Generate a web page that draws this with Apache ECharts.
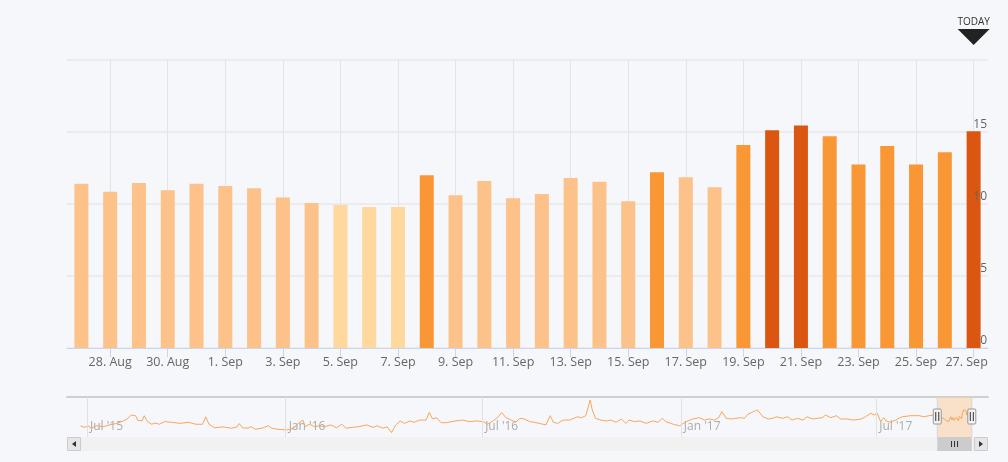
<!DOCTYPE html>
<html>
<head>
<meta charset="utf-8">
<script src="https://cdn.jsdelivr.net/npm/echarts@6/dist/echarts.min.js"></script>
<style>
html,body{margin:0;padding:0;background:#f6f7fa;}
#c{width:1008px;height:462px;}
</style>
</head>
<body>
<div id="c"></div>
<script>
// ---------- main chart data ----------
const categories = ['27. Aug','28. Aug','29. Aug','30. Aug','31. Aug','1. Sep','2. Sep','3. Sep','4. Sep','5. Sep','6. Sep','7. Sep','8. Sep','9. Sep','10. Sep','11. Sep','12. Sep','13. Sep','14. Sep','15. Sep','16. Sep','17. Sep','18. Sep','19. Sep','20. Sep','21. Sep','22. Sep','23. Sep','24. Sep','25. Sep','26. Sep','27. Sep'];
const barDates = ['2017-08-27','2017-08-28','2017-08-29','2017-08-30','2017-08-31','2017-09-01','2017-09-02','2017-09-03','2017-09-04','2017-09-05','2017-09-06','2017-09-07','2017-09-08','2017-09-09','2017-09-10','2017-09-11','2017-09-12','2017-09-13','2017-09-14','2017-09-15','2017-09-16','2017-09-17','2017-09-18','2017-09-19','2017-09-20','2017-09-21','2017-09-22','2017-09-23','2017-09-24','2017-09-25','2017-09-26','2017-09-27'];
const values = [11.4,10.85,11.45,10.95,11.4,11.25,11.1,10.45,10.07,9.93,9.8,9.8,12.0,10.6,11.6,10.4,10.7,11.8,11.55,10.19,12.2,11.85,11.16,14.1,15.12,15.46,14.7,12.75,14.03,12.75,13.59,15.05];
const yMin = 0, yMax = 20, yInterval = 5;
const todayLabel = 'TODAY';

// ---------- navigator (history) data ----------
const navDates = ['2015-06-25','2015-06-29','2015-07-02','2015-07-05','2015-07-10','2015-07-16','2015-07-22','2015-07-28','2015-08-02','2015-08-07','2015-08-11','2015-08-15','2015-08-17','2015-08-21','2015-08-23','2015-08-26','2015-08-30','2015-09-02','2015-09-06','2015-09-11','2015-09-17','2015-09-25','2015-10-03','2015-10-10','2015-10-16','2015-10-19','2015-10-22','2015-10-27','2015-11-04','2015-11-12','2015-11-17','2015-11-19','2015-11-22','2015-11-27','2015-11-30','2015-12-04','2015-12-10','2015-12-16','2015-12-19','2015-12-25','2016-01-02','2016-01-08','2016-01-12','2016-01-17','2016-01-19','2016-01-23','2016-01-28','2016-02-01','2016-02-06','2016-02-12','2016-02-17','2016-02-22','2016-02-26','2016-03-03','2016-03-09','2016-03-16','2016-03-22','2016-03-26','2016-03-31','2016-04-04','2016-04-08','2016-04-12','2016-04-16','2016-04-20','2016-04-25','2016-04-29','2016-05-04','2016-05-10','2016-05-13','2016-05-16','2016-05-20','2016-05-24','2016-05-29','2016-06-06','2016-06-13','2016-06-19','2016-06-26','2016-07-02','2016-07-06','2016-07-11','2016-07-16','2016-07-19','2016-07-23','2016-07-28','2016-08-01','2016-08-05','2016-08-09','2016-08-14','2016-08-17','2016-08-23','2016-08-29','2016-09-02','2016-09-05','2016-09-09','2016-09-14','2016-09-20','2016-09-24','2016-09-27','2016-10-01','2016-10-05','2016-10-09','2016-10-11','2016-10-14','2016-10-19','2016-10-24','2016-10-28','2016-11-02','2016-11-07','2016-11-11','2016-11-14','2016-11-19','2016-11-24','2016-11-30','2016-12-06','2016-12-11','2016-12-15','2016-12-18','2016-12-25','2016-12-31','2017-01-06','2017-01-12','2017-01-18','2017-01-23','2017-01-27','2017-02-01','2017-02-05','2017-02-08','2017-02-12','2017-02-17','2017-02-21','2017-02-26','2017-03-01','2017-03-04','2017-03-09','2017-03-13','2017-03-18','2017-03-23','2017-03-27','2017-03-31','2017-04-05','2017-04-10','2017-04-14','2017-04-19','2017-04-24','2017-04-28','2017-05-03','2017-05-08','2017-05-12','2017-05-15','2017-05-20','2017-05-25','2017-05-29','2017-06-04','2017-06-10','2017-06-17','2017-06-21','2017-06-26','2017-06-29','2017-07-02','2017-07-05','2017-07-08','2017-07-10','2017-07-14','2017-07-19','2017-07-25','2017-08-02','2017-08-10','2017-08-14','2017-08-19','2017-08-24'];
const navValues = [7.8,7.2,7.9,6.8,7.9,7.5,8.3,8.9,9.8,10.9,12.8,12.5,10.4,10.1,12.5,9.8,8.6,9.2,8.6,9.8,9.5,9.0,9.5,8.6,8.6,12.0,8.6,7.0,7.4,6.8,7.4,8.9,7.0,6.8,7.5,6.3,6.8,7.9,6.8,6.3,6.0,6.7,8.7,10.5,7.5,8.6,7.5,7.9,7.5,8.3,7.0,8.6,6.8,7.2,7.5,8.3,7.2,7.9,6.8,7.4,4.8,8.3,10.1,9.0,10.1,9.5,10.5,10.5,14.0,11.0,11.6,9.3,9.3,10.1,10.5,9.8,10.1,9.8,8.6,10.1,12.0,14.0,11.6,10.5,9.5,11.3,11.0,9.8,9.6,9.0,8.3,12.5,9.5,9.0,10.5,10.5,11.3,12.0,11.6,12.5,19.6,15.1,11.3,10.5,10.1,10.5,9.5,11.0,9.0,10.5,9.8,10.1,9.0,10.1,9.5,11.3,9.8,8.6,7.9,9.8,11.0,11.6,10.5,11.0,10.5,11.6,14.3,11.3,11.0,11.3,11.6,11.3,13.1,14.3,15.1,12.0,11.0,11.3,12.0,11.3,12.0,10.5,11.3,10.5,12.0,11.0,11.3,11.6,12.8,11.6,12.5,11.0,11.0,10.5,11.0,12.0,13.6,12.8,13.6,9.8,11.6,10.1,9.5,10.5,12.0,12.5,12.5,12.0,12.5,12.8];
const navTickDates = ['2015-07-01','2016-01-01','2016-07-01','2017-01-01','2017-07-01'];
const navTickLabels = ["Jul '15","Jan '16","Jul '16","Jan '17","Jul '17"];
const navRange = ['2015-06-12T12:00:00','2017-10-12T12:00:00'];
const navYRange = [2.8, 21];

// ---------- layout constants ----------
const L = 67, R = 20, W = 1008;
const mainTop = 60, mainH = 288;
const navTop = 397, navH = 40;
const sbTop = 437, sbH = 14;

const ts = d => new Date(d.length === 10 ? d + 'T00:00:00' : d).getTime();
const HALF_DAY = 12 * 3600 * 1000;
const selStart = ts(barDates[0]) - HALF_DAY;
const selEnd = ts(barDates[barDates.length - 1]) + HALF_DAY;
const labelIdx = (i) => i % 2 === 1;
const FONT = 'Open Sans';

const navData = navDates.map((d, i) => [ts(d), navValues[i]])
  .concat(barDates.map((d, i) => [ts(d), values[i]]));

const chart = echarts.init(document.getElementById('c'), null, {renderer: 'canvas'});

const option = {
  backgroundColor: '#f6f7fa',
  animation: false,
  textStyle: {fontFamily: FONT},
  grid: [
    {left: L, right: R, top: mainTop, height: mainH, containLabel: false},
    {left: L, right: R, top: navTop, height: navH, containLabel: false}
  ],
  visualMap: {
    type: 'piecewise', show: false, seriesIndex: 0, dimension: 1,
    pieces: [
      {lt: 10, color: '#fed89c'},
      {gte: 10, lt: 12, color: '#fdc18a'},
      {gte: 12, lt: 15, color: '#f99734'},
      {gte: 15, color: '#db5610'}
    ]
  },
  xAxis: [
    {
      type: 'category', gridIndex: 0, data: categories, boundaryGap: true,
      axisLine: {show: true, lineStyle: {color: '#ccd6eb', width: 1}},
      axisTick: {show: true, alignWithLabel: true, interval: labelIdx, length: 9, lineStyle: {color: '#ccd6eb'}},
      axisLabel: {
        show: true, interval: labelIdx, margin: 8, color: '#666', fontSize: 12.5, fontFamily: FONT,
        formatter: (v, i) => i === categories.length - 1 ? '{last|' + v + '}' : v,
        rich: {last: {padding: [0, 14, 0, 0], color: '#666', fontSize: 12.5, fontFamily: FONT}}
      },
      splitLine: {show: true, alignWithLabel: true, interval: labelIdx, lineStyle: {color: '#e4e4e8', width: 1}}
    },
    {
      type: 'time', gridIndex: 1, position: 'top',
      min: ts(navRange[0]), max: ts(navRange[1]),
      axisLine: {show: true, onZero: false, lineStyle: {color: '#cfcfcf', width: 2}},
      axisTick: {show: false}, axisLabel: {show: false}, splitLine: {show: false}
    }
  ],
  yAxis: [
    {
      type: 'value', gridIndex: 0, position: 'right', min: yMin, max: yMax, interval: yInterval,
      axisLine: {show: false}, axisTick: {show: false}, axisLabel: {show: false},
      splitLine: {show: true, lineStyle: {color: '#ececf0', width: 2}}
    },
    {
      type: 'value', gridIndex: 1, min: navYRange[0], max: navYRange[1], show: false,
      splitLine: {show: false}
    },
    {
      // label-only copy of the main value axis, drawn above the bars
      type: 'value', gridIndex: 0, position: 'right', min: yMin, max: yMax, interval: yInterval, z: 10,
      axisLine: {show: false}, axisTick: {show: false}, splitLine: {show: false},
      axisLabel: {
        inside: true, margin: 1, color: '#666', fontSize: 12, fontFamily: FONT,
        verticalAlign: 'bottom', padding: [0, 0, 1, 0],
        formatter: v => v === yMax ? '' : String(v)
      }
    }
  ],
  series: [
    {
      type: 'bar', xAxisIndex: 0, yAxisIndex: 0, data: values, barWidth: 14,
      markPoint: {
        silent: true, animation: false,
        data: [{
          coord: [categories[categories.length - 1], yMax],
          symbol: 'path://M0,0L2,0L1,1Z', symbolSize: [32, 16], symbolOffset: [0, -23],
          itemStyle: {color: '#222222'},
          label: {show: true, position: 'top', distance: 2, formatter: todayLabel, color: '#333', fontSize: 10, fontFamily: FONT}
        }]
      }
    },
    {
      type: 'line', xAxisIndex: 1, yAxisIndex: 1, data: navData, showSymbol: false, symbol: 'none',
      lineStyle: {color: '#f8a65c', width: 1}, silent: true,
      markLine: {
        silent: true, symbol: ['none', 'none'], label: {show: false}, animation: false,
        lineStyle: {color: '#e2e2e2', width: 1, type: 'solid'},
        data: navTickDates.map(d => ({xAxis: ts(d)}))
      },
      markArea: {
        silent: true,
        itemStyle: {color: 'rgba(252, 206, 160, 0.55)'},
        data: [[{xAxis: selStart}, {xAxis: selEnd}]]
      }
    },
    {
      type: 'scatter', xAxisIndex: 1, yAxisIndex: 1, symbolSize: 0, silent: true,
      data: navTickDates.map(d => [ts(d), navYRange[0]]),
      label: {
        show: true, position: 'right', distance: 3, offset: [0, -10],
        formatter: p => navTickLabels[p.dataIndex], color: '#999', fontSize: 12, fontFamily: FONT
      }
    }
  ]
};
chart.setOption(option);

// ---------- navigator handles + scrollbar (positioned from the axis scale) ----------
const xL = chart.convertToPixel({xAxisIndex: 1}, selStart);
const xR = chart.convertToPixel({xAxisIndex: 1}, selEnd);
const right = W - R;
const handle = (x) => ([
  {type: 'rect', shape: {x: x - 4, y: 409, width: 8, height: 15, r: 1}, style: {fill: '#f2f2f2', stroke: '#999', lineWidth: 1}, z: 100},
  {type: 'line', shape: {x1: x - 1.5, y1: 412, x2: x - 1.5, y2: 421}, style: {stroke: '#333', lineWidth: 1}, z: 101},
  {type: 'line', shape: {x1: x + 1.5, y1: 412, x2: x + 1.5, y2: 421}, style: {stroke: '#333', lineWidth: 1}, z: 101}
]);
const cx = (xL + xR) / 2;
chart.setOption({
  graphic: [
    {type: 'rect', shape: {x: L, y: sbTop, width: right - L, height: sbH}, style: {fill: '#f1f1f1'}, z: 90},
    {type: 'rect', shape: {x: xL, y: sbTop, width: xR - xL, height: sbH}, style: {fill: '#cccccc'}, z: 91},
    {type: 'line', shape: {x1: cx - 3, y1: sbTop + 4, x2: cx - 3, y2: sbTop + 10}, style: {stroke: '#333', lineWidth: 1}, z: 92},
    {type: 'line', shape: {x1: cx, y1: sbTop + 4, x2: cx, y2: sbTop + 10}, style: {stroke: '#333', lineWidth: 1}, z: 92},
    {type: 'line', shape: {x1: cx + 3, y1: sbTop + 4, x2: cx + 3, y2: sbTop + 10}, style: {stroke: '#333', lineWidth: 1}, z: 92},
    {type: 'rect', shape: {x: L + 0.5, y: sbTop + 0.5, width: 13, height: sbH - 1}, style: {fill: '#e6e6e6', stroke: '#cccccc', lineWidth: 1}, z: 93},
    {type: 'polygon', shape: {points: [[L + 9, sbTop + 4], [L + 9, sbTop + 10], [L + 5, sbTop + 7]]}, style: {fill: '#333'}, z: 94},
    {type: 'rect', shape: {x: right - 13.5, y: sbTop + 0.5, width: 13, height: sbH - 1}, style: {fill: '#e6e6e6', stroke: '#cccccc', lineWidth: 1}, z: 93},
    {type: 'polygon', shape: {points: [[right - 9, sbTop + 4], [right - 9, sbTop + 10], [right - 5, sbTop + 7]]}, style: {fill: '#333'}, z: 94},
    {type: 'line', shape: {x1: xL, y1: navTop, x2: xL, y2: navTop + navH}, style: {stroke: '#d8d8d8', lineWidth: 1}, z: 95},
    {type: 'line', shape: {x1: xR, y1: navTop, x2: xR, y2: navTop + navH}, style: {stroke: '#d8d8d8', lineWidth: 1}, z: 95}
  ].concat(handle(xL), handle(xR))
});
</script>
</body>
</html>
